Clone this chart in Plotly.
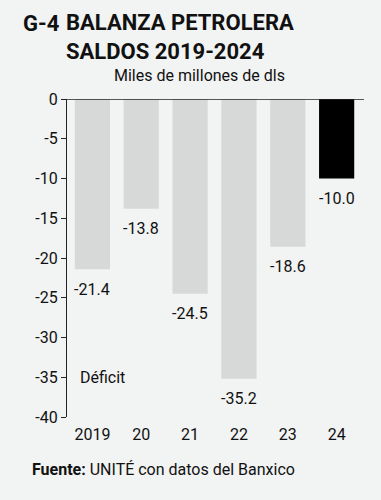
import plotly.graph_objects as go

years = ["2019", "20", "21", "22", "23", "24"]
values = [-21.4, -13.8, -24.5, -35.2, -18.6, -10.0]
labels = ["-21.4", "-13.8", "-24.5", "-35.2", "-18.6", "-10.0"]
colors = ["#d7d8d8", "#d7d8d8", "#d7d8d8", "#d7d8d8", "#d7d8d8", "#000000"]
yticks = [0, -5, -10, -15, -20, -25, -30, -35, -40]

FONT = "Roboto"
BG = "#f2f3f3"
INK = "#111111"

fig = go.Figure()
fig.add_trace(go.Bar(
    x=list(range(len(years))), y=values,
    marker=dict(color=colors, line=dict(width=0)),
    width=0.72,
    hoverinfo="skip",
))

value_annotations = [
    dict(text=t, x=i, y=v, xref="x", yref="y", yshift=-20,
         xanchor="center", yanchor="middle", showarrow=False,
         font=dict(family=FONT, size=16, color=INK))
    for i, (v, t) in enumerate(zip(values, labels))
]

fig.update_layout(
    width=381, height=500,
    paper_bgcolor=BG, plot_bgcolor=BG,
    margin=dict(l=67, r=17, t=99, b=83),
    showlegend=False,
    xaxis=dict(
        range=[-0.52, 5.56], tickmode="array",
        tickvals=list(range(len(years))), ticktext=years,
        showgrid=False, zeroline=False, showline=False, ticks="",
        ticklabelstandoff=6,
        tickfont=dict(family=FONT, size=16, color=INK),
        fixedrange=True,
    ),
    yaxis=dict(
        range=[-40, 0], tickmode="array", tickvals=yticks,
        ticktext=[str(v) for v in yticks],
        showgrid=False, zeroline=False, showline=True,
        linecolor="#222222", linewidth=1.3,
        ticks="outside", ticklen=5, tickcolor="#222222", tickwidth=1.3,
        tickfont=dict(family=FONT, size=16, color=INK),
        fixedrange=True,
    ),
    shapes=[dict(type="line", xref="paper", yref="y", x0=0, x1=1, y0=0, y1=0,
                 line=dict(color="#222222", width=1.3))],
    annotations=value_annotations + [
        dict(text="<b>G-4</b>", xref="paper", yref="paper",
             x=(21 - 67) / 297, y=1 + (99 - 24) / 318, xanchor="left", yanchor="middle",
             showarrow=False, font=dict(family=FONT, size=22, color=INK)),
        dict(text="<b>BALANZA PETROLERA</b><br><b>SALDOS 2019-2024</b>", xref="paper", yref="paper",
             x=(64 - 67) / 297, y=1 + (99 - 37) / 318, xanchor="left", yanchor="middle",
             align="left", showarrow=False, font=dict(family=FONT, size=22, color=INK)),
        dict(text="Miles de millones de dls", xref="paper", yref="paper",
             x=(112 - 67) / 297, y=1 + (99 - 76) / 318, xanchor="left", yanchor="middle",
             showarrow=False, font=dict(family=FONT, size=16, color=INK)),
        dict(text="Déficit", xref="paper", yref="y",
             x=(78 - 67) / 297, y=-35, xanchor="left", yanchor="middle",
             showarrow=False, font=dict(family=FONT, size=16, color=INK)),
        dict(text="<b>Fuente:</b> UNITÉ con datos del Banxico", xref="paper", yref="paper",
             x=(30 - 67) / 297, y=-(469 - 417) / 318, xanchor="left", yanchor="middle",
             showarrow=False, font=dict(family=FONT, size=16, color=INK)),
    ],
)

fig.write_html("out.html", config={"displayModeBar": False},
               post_script="document.body.style.margin='0';")
